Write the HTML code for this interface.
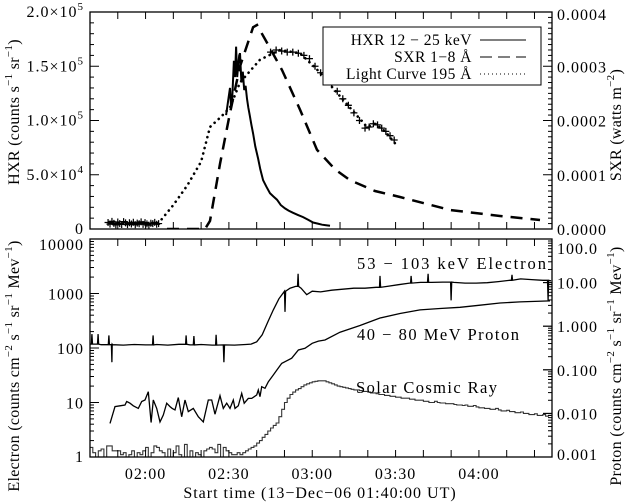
<!DOCTYPE html>
<html><head><meta charset="utf-8"><style>
html,body{margin:0;padding:0;background:#fff;}
svg{display:block;font-family:"Liberation Serif",serif;}
svg text{letter-spacing:1px;}
svg text.rt{letter-spacing:0.3px;}
svg text.lg{letter-spacing:0.5px;}
</style></head><body>
<svg id="chart" width="629" height="503" viewBox="0 0 629 503" xmlns="http://www.w3.org/2000/svg"></svg>
<script>
// ---------------- DATA (minutes after 01:40 UT) ----------------
const timeTickLabels = ["02:00","02:30","03:00","03:30","04:00"];
const timeTickMinutes = [20,50,80,110,140];

// HXR 12-25 keV
const hxrPreTimes = [6.5,7.2,7.9,8.6,9.3,10,10.7,11.4,12.1,12.8,13.5,14.2,14.9,15.6,16.3,17,17.7,18.4,19.1,19.8,20.5,21.2,21.9,22.6,23.3,24,24.7];
const hxrPreValues = [6000,4500,7000,5200,3800,6500,5000,4200,6800,5600,4000,5800,4600,6200,3900,5400,4800,6600,4300,5900,4700,3600,5300,4900,6100,4400,5000];
const hxrTimes = [49,49.7,50.4,50.8,51.2,51.8,52.2,52.6,53,53.3,53.7,54,54.5,55,55.5,56,56.5,57,57.5,58.1,58.7,59.5,60.5,61.3,62.3,63.5,64.8,66,67.3,68.7,70.2,71.5,73,74.8,76.7,78.5,80.3,82,83.5,85,86.4];
const hxrValues = [105000,118000,130000,112000,120000,155000,140000,168000,140000,150000,160000,162000,135000,145000,128000,132000,120000,112000,105000,96000,88000,76000,65000,55000,45000,39000,33000,30000,27000,22000,19000,17000,15000,13000,11000,8500,6000,5000,4000,3500,3000];

// SXR 1-8 A (W m^-2)
const sxrTimes = [27.7,41.4,43.2,46.8,50.4,54,58.7,60.1,63,69.1,75.6,81.7,88.2,93.6,102.6,111.6,129.6,147.6,162];
const sxrValues = [0,0,0.000015,0.00012,0.000214,0.0003,0.000372,0.000376,0.00035,0.000293,0.00022,0.000146,0.00011,0.00009,0.00007,0.000059,0.000035,0.000024,0.0000166];

// Light curve 195 A
const euvTimes = [24.5,30,35,40,43.2,47,50.4,54,61.2,68.4,75.6,81.7,91.1,99.7,102.6,106.2,109.8];
const euvValues = [5000,22000,40000,62000,94000,103000,112000,135000,156000,165000,162000,147000,119000,94000,97000,90000,79000];
const euvMarkTimes = [65,67,69,71,73,75,77,79,81,83,85,87,89,91,93,95,97,99,100.5,102,103.5,105,106.5,108,109.5];
const euvMarkValues = [163000,165000,164000,163000,163000,162000,160000,157000,150000,144000,139000,133000,127000,120000,114000,107000,100000,93000,94000,97000,96000,93000,90000,86000,82000];

// Electron 53-103 keV
const elecTimes = [0,4,8,12,16,20,24,28,32,36,40,44,48,52,56,58,60,62,64,66,68,70,72,74,76,78,80,83,87,91,95,99,103,107,111,115,119,123,127,131,135,139,143,147,151,155,159,163,166];
const elecValues = [118,115,117,113,116,114,116,113,117,114,116,113,114,113,116,118,130,175,300,500,800,1100,1250,1350,1250,950,1100,1070,1150,1200,1250,1250,1300,1350,1450,1550,1600,1600,1620,1600,1550,1550,1580,1650,1750,1850,1800,1750,1700];
const elecSpikeTimes = [0.7,2.9,6.8,7.9,22.7,34.6,37.4,45.4,48.2,70.2,74.9,104.4,115.6,121.7,130,151.9,164.9];
const elecSpikeValues = [180,180,170,55,170,170,165,175,55,460,2300,2100,2100,2300,750,2200,750];

// Proton 40-80 MeV (right axis units)
const protTimes = [7.2,9,10.8,12.6,13.2,14.4,15.6,17.4,18.6,19.8,21,22,22.8,24,25.2,26.4,27.6,28.8,29.6,30.6,31.8,33,34.2,35.4,37.2,39,40.8,42.6,43.8,45,46.8,48,49.2,50.4,51.6,52.2,53.4,54.6,55.5,57,58.2,60,60.6,61.2,61.8,63,64.2,66,67.2,69,70.2,72.6,75,77.4,80,82.2,84.6,90,97.2,104.4,111.6,118.8,126,133.2,140.4,147.6,154.8,165.6];
const protValues = [0.0059,0.0143,0.0149,0.0156,0.0187,0.0171,0.0149,0.0130,0.0187,0.0203,0.0315,0.0062,0.0203,0.0130,0.0064,0.0092,0.0171,0.0143,0.0130,0.0120,0.0230,0.0084,0.0203,0.0110,0.0130,0.0084,0.0064,0.0203,0.0203,0.0096,0.0254,0.0130,0.0171,0.0130,0.0203,0.0130,0.0149,0.0288,0.0171,0.0221,0.0221,0.0264,0.0345,0.0242,0.041,0.0376,0.053,0.076,0.0975,0.14,0.153,0.185,0.285,0.312,0.405,0.456,0.482,0.729,1.04,1.54,1.96,2.36,2.54,2.72,3.03,3.41,3.6,3.8];

// Solar cosmic ray (histogram, 1-minute bins starting at t=0, left axis units)
const crValues = [1.5,1.2,1.0,1.3,1.4,1.0,1.6,1.6,1.3,1.3,1.3,1.1,1.2,1.0,1.1,1.3,1.0,1.2,1.1,1.3,1.5,1.0,1.2,1.6,1.5,1.3,1.2,1.0,1.4,1.0,1.2,1.6,1.1,1.0,1.7,1.0,1.3,1.0,1.2,1.1,1.0,1.3,1.4,1.5,1.4,1.2,1.7,1.0,1.5,1.3,1.2,1.1,1.1,1.2,1.1,1.2,1.3,1.4,1.5,
1.6,1.8,2.0,2.3,2.6,3.0,3.4,3.8,4.2,5.5,7.5,10,12,14,15.5,17,18,19.5,21,22,23,24,24.5,25,25,25,24,23,22,21,20,19.5,19,18.5,18,17.5,17,17,16.5,16,16,15.5,15,15,14.5,14,14,13.5,13.5,13,13,12.5,12.5,12,12,12,11.5,11.5,11,11,11,10.5,10.5,10,10,10.5,10,9.8,9.8,9.5,9.5,9.5,9.2,9,9,8.8,9,8.5,8.5,8.8,8.3,8,8,7.8,7.8,7.5,7.5,7.8,7.3,7,7,7.2,6.8,6.8,6.5,6.5,6.7,6.3,6.3,6,6,6.2,5.8,5.8,6.0,5.6,5.8];

// ---------------- AXES ----------------
const XL=90, XR=552, T_TOP=12, T_BOT=229, B_TOP=239, B_BOT=457;
const PXMIN=2.778;
function xs(t){return XL+t*PXMIN;}
function yHxr(v){return T_BOT-(v/200000)*(T_BOT-T_TOP);}
function ySxr(v){return T_BOT-(v/0.0004)*(T_BOT-T_TOP);}
function yLog(v){return B_BOT-Math.log10(Math.max(v,1))*(B_BOT-B_TOP)/4;}
function yProt(v){return B_BOT-(Math.log10(Math.max(v,0.001))+3)*(B_BOT-B_TOP)/5;}

const svgRoot=document.getElementById('chart');
const NS='http://www.w3.org/2000/svg';
function mk(tag,attrs,parent){const e=document.createElementNS(NS,tag);for(const k in attrs)e.setAttribute(k,attrs[k]);(parent||svgRoot).appendChild(e);return e;}
function txt(s,x,y,anchor,size,parent){const e=mk('text',{x:x,y:y,'text-anchor':anchor||'start','font-size':size||16,fill:'#000'},parent);e.textContent=s;return e;}
function pathFrom(ts,vs,yf){let d='';for(let i=0;i<ts.length;i++){d+=(i?'L':'M')+xs(ts[i]).toFixed(1)+','+yf(vs[i]).toFixed(1);}return d;}

const defsEl=mk('defs',{});
const c1=mk('clipPath',{id:'clipTop'},defsEl);mk('rect',{x:XL,y:T_TOP,width:XR-XL,height:T_BOT-T_TOP},c1);
const c2=mk('clipPath',{id:'clipBot'},defsEl);mk('rect',{x:XL,y:B_TOP,width:XR-XL,height:B_BOT-B_TOP},c2);

// ---------- TOP PANEL ----------
const topG=mk('g',{'clip-path':'url(#clipTop)'});


const pre=mk('g',{stroke:'#000','stroke-width':1.2,fill:'none'},topG);


mk('path',{d:pathFrom(hxrPreTimes,hxrPreValues,yHxr)},pre);
for(let i=0;i<hxrPreTimes.length;i++){const x=xs(hxrPreTimes[i]),y=yHxr(hxrPreValues[i]);mk('path',{d:`M${x-3.5},${y}h7M${x},${y-3.5}v7`},pre);}
const hxr=mk('path',{d:pathFrom(hxrTimes,hxrValues,yHxr),stroke:'#000','stroke-width':2,fill:'none'},topG);


const sxr=mk('path',{d:pathFrom(sxrTimes,sxrValues,ySxr),stroke:'#000','stroke-width':2.5,fill:'none','stroke-dasharray':'12,8'},topG);


const euv=mk('path',{d:pathFrom(euvTimes,euvValues,yHxr),stroke:'#000','stroke-width':2.6,fill:'none','stroke-dasharray':'0.1,5.5','stroke-linecap':'round'},topG);


const em=mk('g',{stroke:'#000','stroke-width':1.3},topG);


for(let i=0;i<euvMarkTimes.length;i++){const x=xs(euvMarkTimes[i]),y=yHxr(euvMarkValues[i]);mk('path',{d:`M${x-3.5},${y}h7M${x},${y-3.5}v7`},em);}

// ---------- BOTTOM PANEL ----------
const botG=mk('g',{'clip-path':'url(#clipBot)'});


const pts=elecTimes.map((t,i)=>[t,elecValues[i]]);
for(let i=0;i<elecSpikeTimes.length;i++){
  const t=elecSpikeTimes[i];
  let j=0;while(j<elecTimes.length-1&&elecTimes[j+1]<t)j++;
  const b=elecValues[j];
  pts.push([t-0.2,b]);pts.push([t,elecSpikeValues[i]]);pts.push([t+0.2,b]);
}
pts.sort((a,b)=>a[0]-b[0]);
const el=mk('path',{d:pathFrom(pts.map(p=>p[0]),pts.map(p=>p[1]),yLog),stroke:'#000','stroke-width':1.3,fill:'none'},botG);


const pr=mk('path',{d:pathFrom(protTimes,protValues,yProt),stroke:'#000','stroke-width':1.3,fill:'none'},botG);


let dd='';
for(let i=0;i<crValues.length;i++){const x0=xs(i),x1=xs(i+1),y=yLog(crValues[i]);dd+=(i?'L':'M')+x0.toFixed(1)+','+y.toFixed(1)+'L'+x1.toFixed(1)+','+y.toFixed(1);}
const cr=mk('path',{d:dd,stroke:'#333','stroke-width':1.1,fill:'none'},botG);



// ---------- FRAMES & TICKS ----------
const ax=mk('g',{stroke:'#000','stroke-width':1.3,fill:'none'});


mk('rect',{x:XL,y:T_TOP,width:XR-XL,height:T_BOT-T_TOP},ax);
mk('rect',{x:XL,y:B_TOP,width:XR-XL,height:B_BOT-B_TOP},ax);
const tk=mk('g',{stroke:'#000','stroke-width':1});


for(let t=0;t<=166;t+=10){const x=xs(t);
  for(const [a,b] of [[T_TOP,T_BOT],[B_TOP,B_BOT]]){mk('line',{x1:x,y1:a,x2:x,y2:a+7},tk);mk('line',{x1:x,y1:b,x2:x,y2:b-7},tk);}
}
for(let v=0;v<=200000;v+=10000){const y=yHxr(v);const L=v%50000===0?9:4;mk('line',{x1:XL,y1:y,x2:XL+L,y2:y},tk);}
for(let k=0;k<=40;k++){const y=ySxr(k*0.00001);const L=k%10===0?9:4;mk('line',{x1:XR,y1:y,x2:XR-L,y2:y},tk);}
for(let dcd=0;dcd<4;dcd++){for(let m=1;m<=10;m++){const v=Math.pow(10,dcd)*m;const y=yLog(v);const L=(m===1||m===10)?9:4;mk('line',{x1:XL,y1:y,x2:XL+L,y2:y},tk);}}
for(let dcd=-3;dcd<2;dcd++){for(let m=1;m<=10;m++){const v=Math.pow(10,dcd)*m;const y=yProt(v);const L=(m===1||m===10)?9:4;mk('line',{x1:XR,y1:y,x2:XR-L,y2:y},tk);}}

// ---------- LABELS ----------
const lab=mk('g',{});


const hxrTickVals=[0,50000,100000,150000,200000];
const hxrTickMant=["0","5.0","1.0","1.5","2.0"];
const hxrTickExp=["","4","5","5","5"];
for(let i=0;i<hxrTickVals.length;i++){const y=yHxr(hxrTickVals[i])+5;
  const e=mk('text',{x:84,y:y,'text-anchor':'end','font-size':16},lab);
  if(hxrTickExp[i]===''){e.textContent='0';}else{e.textContent=hxrTickMant[i]+'×10';const s=mk('tspan',{dy:-7,'font-size':11},e);s.textContent=hxrTickExp[i];}
}
const sxrTickVals=[0,0.0001,0.0002,0.0003,0.0004];
const sxrTickLabels=["0.0000","0.0001","0.0002","0.0003","0.0004"];
for(let i=0;i<sxrTickVals.length;i++)txt(sxrTickLabels[i],557,Math.max(ySxr(sxrTickVals[i])+6,20),'start',16,lab);
const elecTickVals=[1,10,100,1000,10000];
const elecTickLabels=["1","10","100","1000","10000"];
for(let i=0;i<elecTickVals.length;i++)txt(elecTickLabels[i],84,Math.min(Math.max(yLog(elecTickVals[i])+6,250),462),'end',16,lab);
const protTickVals=[0.001,0.01,0.1,1,10,100];
const protTickLabels=["0.001","0.010","0.100","1.000","10.00","100.0"];
for(let i=0;i<protTickVals.length;i++)txt(protTickLabels[i],557,Math.min(Math.max(yProt(protTickVals[i])+6,254),460),'start',16,lab);
for(let i=0;i<timeTickLabels.length;i++)txt(timeTickLabels[i],xs(timeTickMinutes[i]),479,'middle',16,lab);
const xt=txt('Start time (13−Dec−06 01:40:00 UT)',320,498,'middle',16);



const l1=txt('53 − 103 keV Electron',357,269,'start',16.5);


l1.setAttribute('textLength','190');
const l2=txt('40 − 80 MeV Proton',357,340,'start',16.5);


l2.setAttribute('textLength','163');
const l3=txt('Solar Cosmic Ray',356,393,'start',16.5);


l3.setAttribute('textLength','142');

const lg=mk('g',{});


mk('rect',{x:323,y:27,width:218,height:58,fill:'#fff',stroke:'#000','stroke-width':1},lg);
const lt1=txt('HXR 12 − 25 keV',472,45,'end',15.5,lg);lt1.setAttribute('class','lg');
const lt2=txt('SXR 1−8 Å',472,62,'end',15.5,lg);lt2.setAttribute('class','lg');
const lt3=txt('Light Curve 195 Å',472,79,'end',15.5,lg);lt3.setAttribute('class','lg');
mk('line',{x1:480,y1:40,x2:526,y2:40,stroke:'#000','stroke-width':1},lg);
mk('line',{x1:480,y1:57,x2:526,y2:57,stroke:'#000','stroke-width':1,'stroke-dasharray':'12,6'},lg);
mk('line',{x1:480,y1:74,x2:526,y2:74,stroke:'#000','stroke-width':1,'stroke-dasharray':'1,3'},lg);

function rot(parts,x,y,name){const e=mk('text',{transform:`translate(${x},${y}) rotate(-90)`,'text-anchor':'middle','font-size':16,'class':'rt'});
  
  
  let sup=false;
  for(const p of parts){
    if(p[1]){const s=mk('tspan',{dy:-7,'font-size':11},e);s.textContent=p[0];sup=true;}
    else{const s=mk('tspan',{dy:sup?7:0,'font-size':16},e);s.textContent=p[0];sup=false;}
  }
  return e;}
rot([['Electron (counts cm'],['−2',1],[' s'],['−1',1],[' sr'],['−1',1],[' Mev'],['−1',1],[')']],19,366,'electron-axis-title');
rot([['HXR (counts s'],['−1',1],[' sr'],['−1',1],[')']],19,112,'hxr-axis-title');
rot([['Proton (counts cm'],['−2',1],[' s'],['−1',1],[' sr'],['−1',1],[' Mev'],['−1',1],[')']],621,366,'proton-axis-title');
rot([['SXR (watts m'],['−2',1],[')']],621,125,'sxr-axis-title');
</script>
</body></html>
